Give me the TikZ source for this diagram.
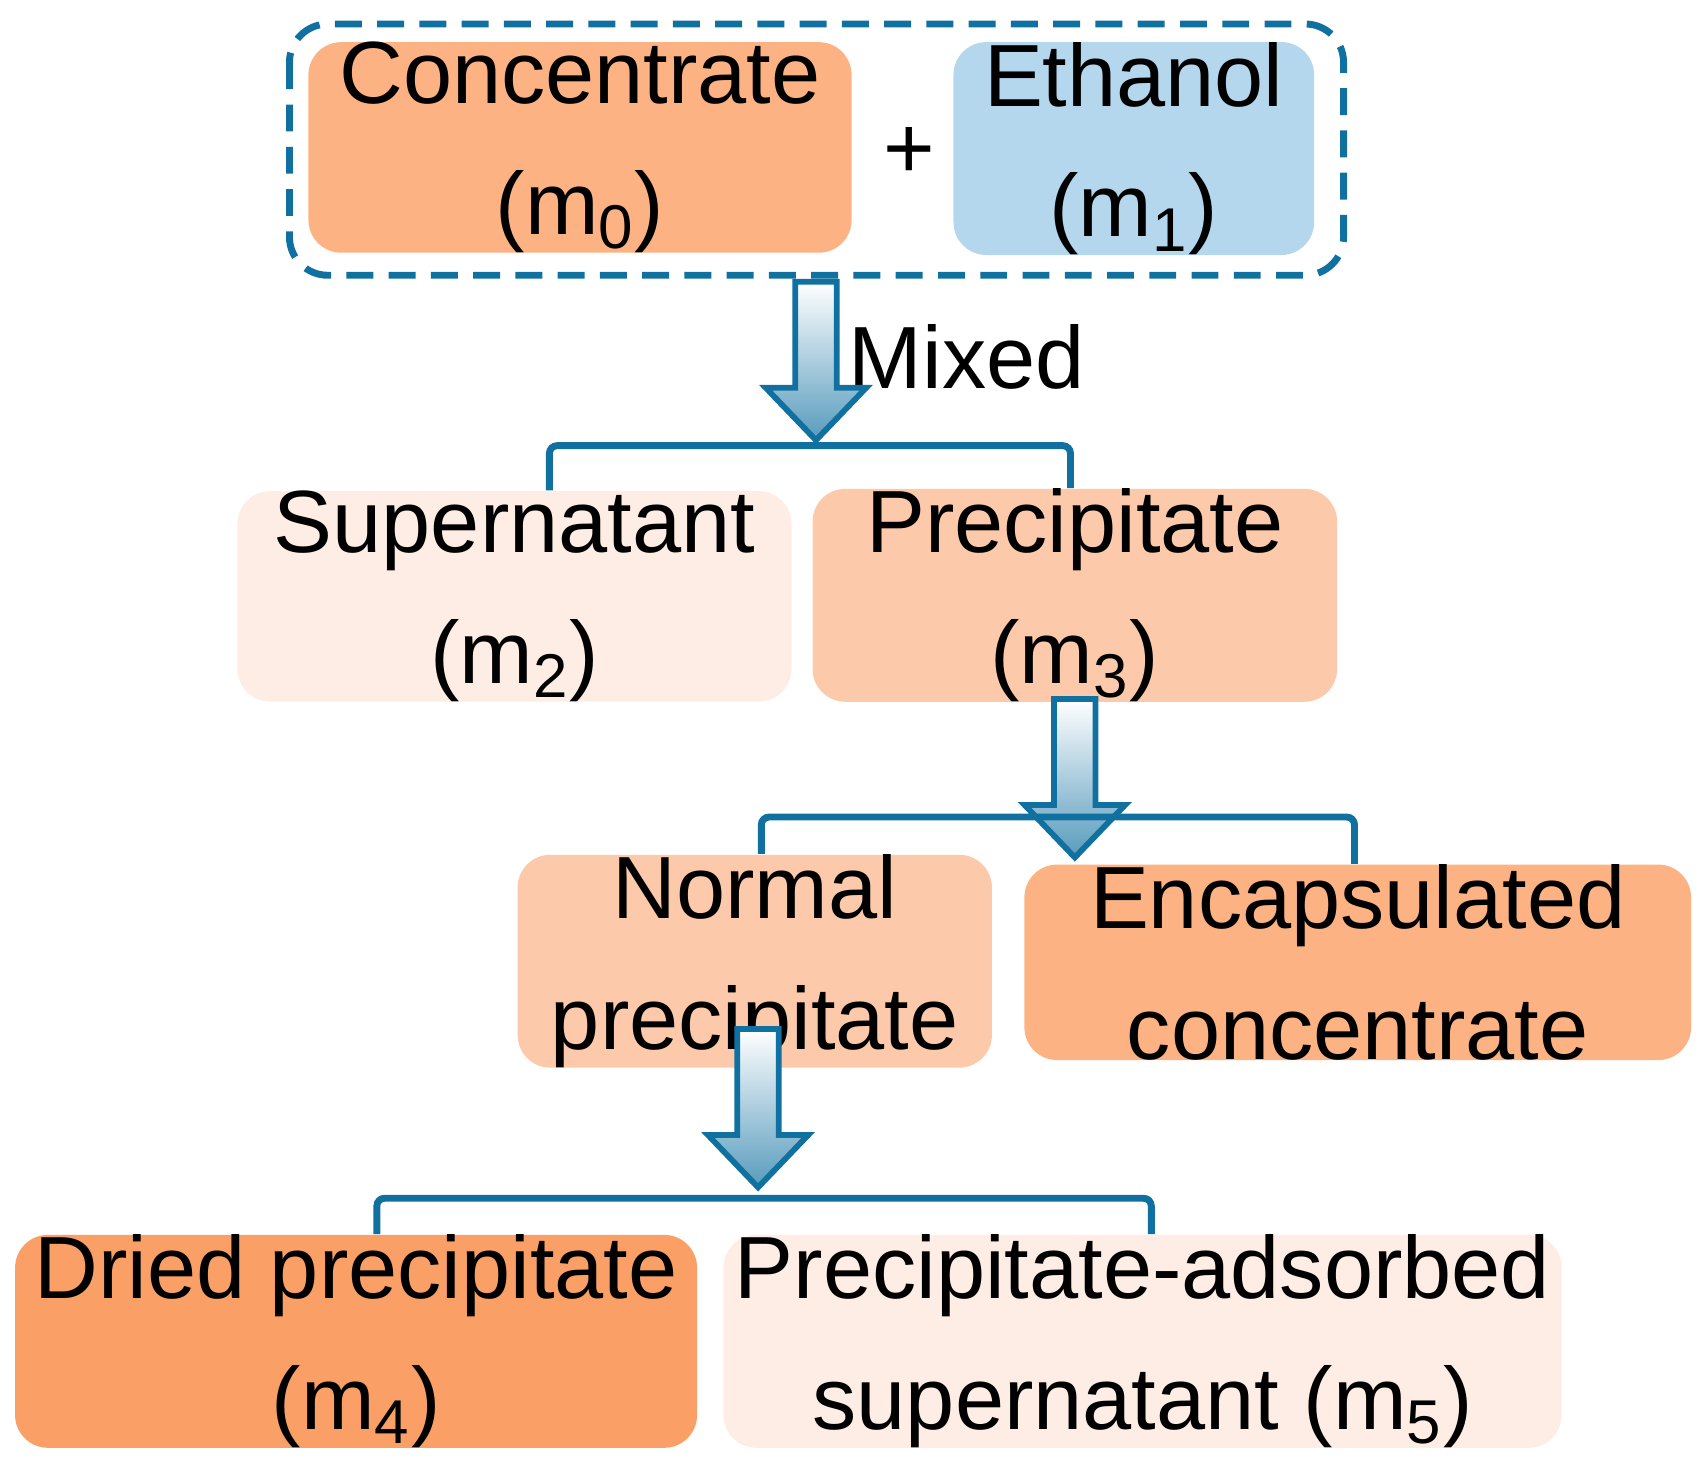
\documentclass[tikz,border=0pt]{standalone}
\usepackage{fontspec}
\setmainfont{Liberation Sans}
\usetikzlibrary{positioning,calc}
\definecolor{deep}{RGB}{250,160,102}
\definecolor{mid}{RGB}{252,178,130}
\definecolor{soft}{RGB}{252,202,170}
\definecolor{pale}{RGB}{253,237,228}
\definecolor{sky}{RGB}{180,215,238}
\definecolor{line}{RGB}{16,112,160}
\tikzset{
    box/.style={
        rectangle,
        rounded corners=0.3cm,
        inner sep=0pt,
        align=center,
        font=\fontsize{23}{34}\selectfont
    },
    bracket/.style={draw=line, line width=1.8pt, rounded corners=2pt},
    flow/.style={draw=line, line width=1.5pt, top color=white, bottom color=line!70}
}
\newcommand{\flowarrow}[2]{% #1 = centre x, #2 = top y (units)
    \path[flow] (#1-19,#2) -- (#1+19,#2) -- (#1+19,#2+97) -- (#1+46,#2+97)
        -- (#1,#2+145) -- (#1-46,#2+97) -- (#1-19,#2+97) -- cycle;}
\begin{document}
\begin{tikzpicture}[x=0.01cm,y=-0.01cm]
    \useasboundingbox (0,0) rectangle (1560,1334);
    % top row
    \node[box, fill=mid, minimum width=4.97cm, minimum height=1.9cm] (conc) at (531,135) {Concentrate\\(m\textsubscript{0})};
    \node[box, fill=sky, minimum width=3.3cm, minimum height=1.88cm] (eth) at (1038,136) {Ethanol\\(m\textsubscript{1})};
    \node[box] (plus) at (832,140) {+};
    \draw[line, line width=1.8pt, dash pattern=on 7pt off 4pt, rounded corners=0.35cm]
        (265,22) rectangle (1230,252);
    \node[box] (mixed) at (885,327) {Mixed};
    % second row
    \node[box, fill=pale, minimum width=5.07cm, minimum height=1.77cm] (sup) at (471,546) {Supernatant\\(m\textsubscript{2})};
    \node[box, fill=soft, minimum width=4.8cm, minimum height=1.8cm] (prec) at (984,545) {Precipitate\\(m\textsubscript{3})};
    % third row
    \node[box, fill=soft, minimum width=4.34cm, minimum height=1.8cm] (normal) at (691,880) {Normal\\precipitate};
    \node[box, fill=mid, minimum width=6.1cm, minimum height=1.77cm] (encap) at (1243,881) {Encapsulated\\concentrate};
    % fourth row
    \node[box, fill=deep, minimum width=6.24cm, minimum height=1.8cm] (dried) at (326,1228) {Dried precipitate\\(m\textsubscript{4})};
    \node[box, fill=pale, minimum width=7.67cm, minimum height=1.8cm] (adsorb) at (1046,1228) {Precipitate-adsorbed\\supernatant (m\textsubscript{5})};

    % -- arrows and brackets -- %
    \flowarrow{747}{258}
    \flowarrow{984}{640}
    \flowarrow{694}{942}
    \coordinate (b1) at (747,408);
    \coordinate (b2) at (984,748);
    \coordinate (b3) at (694,1097);
    \draw[bracket] (sup.north -| 503,0) |- (b1) -| (prec.north -| 980,0);
    \draw[bracket] (normal.north -| 697,0) |- (b2) -| (encap.north -| 1240,0);
    \draw[bracket] (dried.north -| 345,0) |- (b3) -| (adsorb.north -| 1054,0);
\end{tikzpicture}
\end{document}
